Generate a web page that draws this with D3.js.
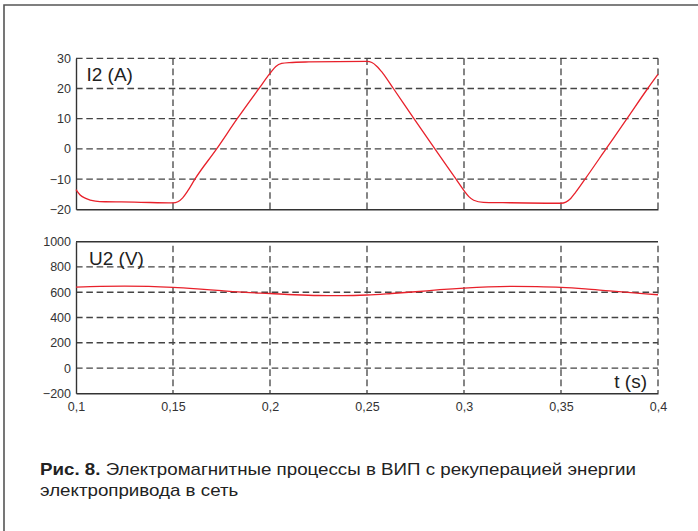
<!DOCTYPE html>
<html>
<head>
<meta charset="utf-8">
<script src="https://cdn.jsdelivr.net/npm/d3@7"></script>
<style>
  body { margin: 0; background: #fff; }
  .tick text { font-family: "Liberation Sans", Arial, sans-serif; font-size: 12.5px; fill: #333; }
  .plot-label { font-family: "Liberation Sans", Arial, sans-serif; font-size: 19px; fill: #222; }
  .caption { font-family: "Liberation Sans Narrow", "Liberation Sans", Arial, sans-serif; font-size: 17px; fill: #222; }
</style>
</head>
<body>
<div id="viz"></div>
<script>
// data
var tTicks = [0.1, 0.15, 0.2, 0.25, 0.3, 0.35, 0.4];
var tTickLabels = ["0,1", "0,15", "0,2", "0,25", "0,3", "0,35", "0,4"];
var i2Ticks = [-20, -10, 0, 10, 20, 30];
var u2Ticks = [-200, 0, 200, 400, 600, 800, 1000];

// I2 (A)
var i2Time = [0.1, 0.102, 0.105, 0.11, 0.115, 0.13, 0.15, 0.1525, 0.155, 0.1575, 0.1613, 0.1725, 0.1831, 0.1943, 0.2, 0.203, 0.206, 0.21, 0.22, 0.25,
              0.2525, 0.255, 0.258, 0.2636, 0.2742, 0.285, 0.2959, 0.3, 0.3025, 0.305, 0.31, 0.32, 0.35,
              0.3525, 0.355, 0.3575, 0.3624, 0.3732, 0.384, 0.3947, 0.4];
var i2Values = [-13.5, -15.2, -16.4, -17.3, -17.5, -17.6, -17.9, -17.5, -16.2, -14.0, -10, 0, 10, 20, 25, 27.3, 28.3, 28.6, 28.8, 29,
                28.6, 27.4, 25.2, 20, 10, 0, -10, -13.8, -15.8, -17.0, -17.7, -17.8, -18,
                -17.6, -16.4, -14.4, -10, 0, 10, 20, 24.7];

// U2 (V)
var u2Time = [0.1, 0.1125, 0.125, 0.1375, 0.15, 0.1625, 0.175, 0.1875, 0.2, 0.2125, 0.225, 0.2375, 0.25,
              0.2625, 0.275, 0.2875, 0.3, 0.3125, 0.325, 0.3375, 0.35, 0.3625, 0.375, 0.3875, 0.4];
var u2Values = [641, 647, 649, 646, 638, 626, 612, 599, 590, 580, 574, 573, 578,
                590, 604, 620, 633, 642, 646, 644, 638, 626, 610, 595, 580];

var W = 698, H = 531;

const svg = d3.select("#viz")
    .append("svg")
    .attr("width", W)
    .attr("height", H);

// outer frame (top + left only)
svg.append("path")
    .attr("d", "M4,531 V5 H698")
    .attr("fill", "none")
    .attr("stroke", "#555")
    .attr("stroke-width", 1.6);

var x = d3.scaleLinear()
    .domain([0.1, 0.4])
    .range([76, 658]);

var dash = "6.6,3.7";
var gridColor = "#444";

function drawPanel(y, ticks, time, values, label, labelY, topSolid, showX) {
    var g = svg.append("g");
    var x0 = x.range()[0], x1 = x.range()[1];
    var yTop = y.range()[1], yBot = y.range()[0];

    // horizontal grid
    g.append("g").selectAll("line")
        .data(ticks.filter(function(d, i) { return i > 0 && (!topSolid || i < ticks.length - 1); }))
        .enter().append("line")
        .attr("x1", x0).attr("x2", x1)
        .attr("y1", function(d) { return y(d); })
        .attr("y2", function(d) { return y(d); })
        .attr("stroke", gridColor)
        .attr("stroke-width", 1.3)
        .attr("stroke-dasharray", dash);

    // vertical grid
    g.append("g").selectAll("line")
        .data(tTicks.slice(1))
        .enter().append("line")
        .attr("x1", function(d) { return x(d); })
        .attr("x2", function(d) { return x(d); })
        .attr("y1", topSolid ? yTop + 4 : yTop)
        .attr("y2", yBot)
        .attr("stroke", gridColor)
        .attr("stroke-width", 1.3)
        .attr("stroke-dasharray", dash);

    // axes
    var yAxis = g.append("g")
        .attr("transform", "translate(" + x0 + ",0)")
        .call(d3.axisLeft(y).tickValues(ticks).tickSize(0).tickPadding(5)
            .tickFormat(function(d) { return d < 0 ? "\u2212" + Math.abs(d) : d; }));
    yAxis.select(".domain").attr("stroke", "#333").attr("stroke-width", 1.4);

    var xAxis = g.append("g")
        .attr("transform", "translate(0," + yBot + ")")
        .call(d3.axisBottom(x).tickValues(tTicks).tickSize(0).tickPadding(9)
            .tickFormat(function(d, i) { return tTickLabels[i]; }));
    xAxis.select(".domain").attr("stroke", "#333").attr("stroke-width", 1.4);
    if (!showX) xAxis.selectAll("text").remove();

    if (topSolid) {
        g.append("line")
            .attr("x1", x0).attr("x2", x1)
            .attr("y1", yTop).attr("y2", yTop)
            .attr("stroke", "#333")
            .attr("stroke-width", 1.4);
    }

    var line = d3.line()
        .x(function(d) { return x(d[0]); })
        .y(function(d) { return y(d[1]); })
        .curve(d3.curveMonotoneX);

    g.append("path")
        .datum(time.map(function(t, i) { return [t, values[i]]; }))
        .attr("d", line)
        .attr("fill", "none")
        .attr("stroke", "#e8212b")
        .attr("stroke-width", 1.3);

    g.append("text")
        .attr("class", "plot-label")
        .attr("x", label[1])
        .attr("y", labelY)
        .text(label[0]);
}

// top panel: current
var yI = d3.scaleLinear().domain([-20, 30]).range([209.3, 58.3]);
drawPanel(yI, i2Ticks, i2Time, i2Values, ["I2 (A)", 86.5], 80.7, false, false);

// bottom panel: voltage
var yU = d3.scaleLinear().domain([-200, 1000]).range([393.3, 241.7]);
drawPanel(yU, u2Ticks, u2Time, u2Values, ["U2 (V)", 89], 264.5, true, true);

svg.append("text")
    .attr("class", "plot-label")
    .attr("x", 647)
    .attr("y", 387.5)
    .attr("text-anchor", "end")
    .text("t (s)");

// caption - squeeze both lines by the same factor (condensed face in the original)
var cap1 = svg.append("text")
    .attr("class", "caption")
    .attr("x", 40)
    .attr("y", 474.5);
cap1.append("tspan").attr("font-weight", "bold").text("Рис. 8.");
cap1.append("tspan").text(" Электромагнитные процессы в ВИП с рекуперацией энергии");

var cap2 = svg.append("text")
    .attr("class", "caption")
    .attr("x", 40)
    .attr("y", 496)
    .text("электропривода в сеть");

var squeeze = 596 / cap1.node().getComputedTextLength();
cap2.attr("textLength", cap2.node().getComputedTextLength() * squeeze)
    .attr("lengthAdjust", "spacingAndGlyphs");
cap1.attr("textLength", 596)
    .attr("lengthAdjust", "spacingAndGlyphs");
</script>
</body>
</html>
